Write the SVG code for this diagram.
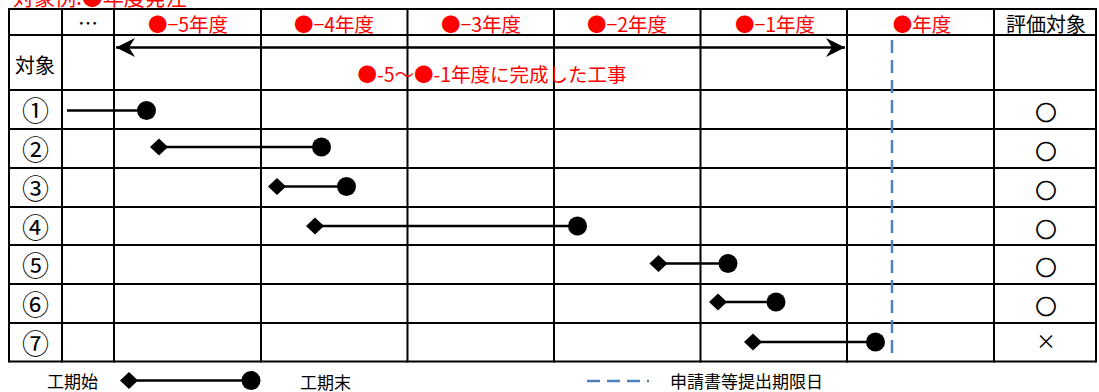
<svg xmlns="http://www.w3.org/2000/svg" width="1099" height="392" viewBox="0 0 1099 392">
<style>
text{font-family:"Noto Sans CJK JP","Noto Sans",sans-serif;}
.hd{font-size:19.5px;fill:#ff0000;text-anchor:middle;}
.bk{font-size:20px;fill:#000;text-anchor:middle;}
.num{font-size:27px;fill:#000;text-anchor:middle;}
.grid line{stroke:#000;stroke-width:2;}
.bar{stroke:#000;stroke-width:2.5;fill:none;}
.due{stroke:#4f81bd;stroke-width:2.5;stroke-dasharray:13 7;fill:none;}
.ev{font-size:21px;font-weight:700;fill:#000;stroke:#000;stroke-width:0.7;text-anchor:middle;}
.lg{font-size:17px;fill:#000;}
</style>
<defs>
<marker id="dia" viewBox="-10 -10 20 20" markerWidth="20" markerHeight="20" markerUnits="userSpaceOnUse" refX="0" refY="0" orient="0"><polygon points="0,-8.5 9,0 0,8.5 -9,0" fill="#000"/></marker>
<marker id="dot" viewBox="-11 -11 22 22" markerWidth="22" markerHeight="22" markerUnits="userSpaceOnUse" refX="0" refY="0" orient="0"><circle r="9.5" fill="#000"/></marker>
<marker id="arr" viewBox="-21 -11 22 22" markerWidth="22" markerHeight="22" markerUnits="userSpaceOnUse" refX="0" refY="0" orient="auto-start-reverse"><path d="M0,0 L-19,-9.5 L-13,0 L-19,9.5 Z" fill="#000"/></marker>
</defs>
<rect width="1099" height="392" fill="#fff"/>
<text x="13" y="5" font-size="21" fill="#ff0000">対象例:●年度発注</text>
<g id="grid" class="grid">
<line x1="9" y1="9" x2="1096" y2="9"/>
<line x1="9" y1="35" x2="1096" y2="35"/>
<line x1="9" y1="90" x2="1096" y2="90"/>
<line x1="9" y1="129" x2="1096" y2="129"/>
<line x1="9" y1="168" x2="1096" y2="168"/>
<line x1="9" y1="207" x2="1096" y2="207"/>
<line x1="9" y1="245" x2="1096" y2="245"/>
<line x1="9" y1="284" x2="1096" y2="284"/>
<line x1="9" y1="323" x2="1096" y2="323"/>
<line x1="9" y1="361.5" x2="1096" y2="361.5"/>
<line x1="9" y1="8" x2="9" y2="362.5"/>
<line x1="62" y1="8" x2="62" y2="362.5"/>
<line x1="114" y1="8" x2="114" y2="362.5"/>
<line x1="261" y1="8" x2="261" y2="362.5"/>
<line x1="407.5" y1="8" x2="407.5" y2="362.5"/>
<line x1="554" y1="8" x2="554" y2="362.5"/>
<line x1="700.5" y1="8" x2="700.5" y2="362.5"/>
<line x1="847" y1="8" x2="847" y2="362.5"/>
<line x1="994" y1="8" x2="994" y2="362.5"/>
<line x1="1096" y1="8" x2="1096" y2="362.5"/>
</g>
<g id="header">
<text class="bk" x="88" y="31">…</text>
<text class="hd" x="188" y="32">●−5年度</text>
<text class="hd" x="334" y="32">●−4年度</text>
<text class="hd" x="481" y="32">●−3年度</text>
<text class="hd" x="627" y="32">●−2年度</text>
<text class="hd" x="775" y="32">●−1年度</text>
<text class="hd" x="922" y="32">●年度</text>
<text class="bk" x="1046" y="32" font-size="21">評価対象</text>
<text class="bk" x="35" y="73">対象</text>
</g>
<g id="period">
<text class="hd" x="492" y="82" font-size="22">●-5〜●-1年度に完成した工事</text>
</g>
<g id="rows">
<g id="r1"><text class="num" x="35.5" y="121">①</text><text class="ev" x="1046" y="120">○</text></g>
<g id="r2"><text class="num" x="35.5" y="160">②</text><text class="ev" x="1046" y="159">○</text></g>
<g id="r3"><text class="num" x="35.5" y="199">③</text><text class="ev" x="1046" y="198">○</text></g>
<g id="r4"><text class="num" x="35.5" y="237.5">④</text><text class="ev" x="1046" y="236.5">○</text></g>
<g id="r5"><text class="num" x="35.5" y="276">⑤</text><text class="ev" x="1046" y="275">○</text></g>
<g id="r6"><text class="num" x="35.5" y="315">⑥</text><text class="ev" x="1046" y="314">○</text></g>
<g id="r7"><text class="num" x="35.5" y="353.5">⑦</text><text class="bk" x="1046" y="349" font-size="18">×</text></g>
</g>
<g id="connectors">
<line x1="116" y1="47.5" x2="845" y2="47.5" stroke="#000" stroke-width="2.5" marker-start="url(#arr)" marker-end="url(#arr)"/>
<line class="due" x1="892" y1="40" x2="892" y2="356"/>
<line class="bar" x1="67" y1="110.5" x2="146.5" y2="110.5" marker-end="url(#dot)"/>
<line class="bar" x1="159" y1="147" x2="321.5" y2="147" marker-start="url(#dia)" marker-end="url(#dot)"/>
<line class="bar" x1="277" y1="186.5" x2="346.5" y2="186.5" marker-start="url(#dia)" marker-end="url(#dot)"/>
<line class="bar" x1="315" y1="226" x2="577.5" y2="226" marker-start="url(#dia)" marker-end="url(#dot)"/>
<line class="bar" x1="658.5" y1="263.5" x2="728" y2="263.5" marker-start="url(#dia)" marker-end="url(#dot)"/>
<line class="bar" x1="718" y1="302" x2="776" y2="302" marker-start="url(#dia)" marker-end="url(#dot)"/>
<line class="bar" x1="753" y1="342" x2="875.5" y2="342" marker-start="url(#dia)" marker-end="url(#dot)"/>
</g>
<g id="legend">
<text class="lg" x="47" y="388">工期始</text>
<line class="bar" x1="129" y1="380.5" x2="251" y2="380.5" marker-start="url(#dia)" marker-end="url(#dot)"/>
<text class="lg" x="300" y="388.5">工期末</text>
<line class="due" x1="583" y1="381" x2="649" y2="381" stroke-dashoffset="16"/>
<text class="lg" x="670" y="388">申請書等提出期限日</text>
</g>
</svg>
